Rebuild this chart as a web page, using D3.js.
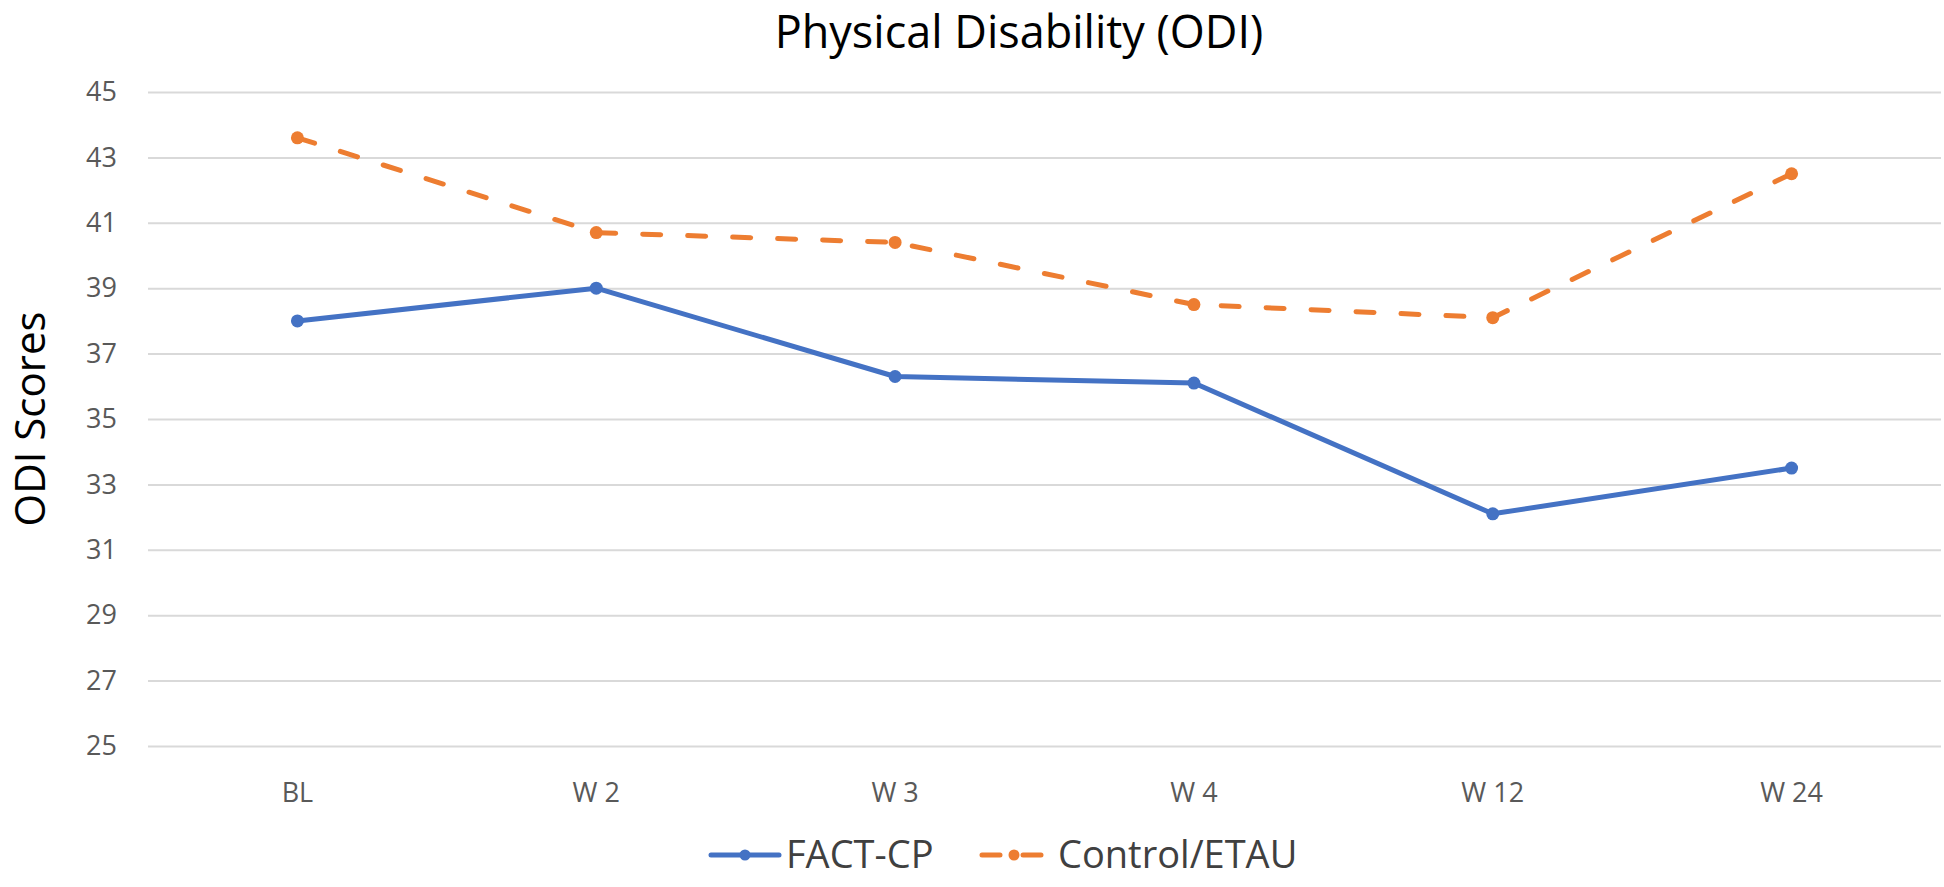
<!DOCTYPE html>
<html>
<head>
<meta charset="utf-8">
<script src="https://cdn.jsdelivr.net/npm/d3@7"></script>
<style>
  html, body { margin: 0; padding: 0; background: #fff; }
  svg { display: block; }
  text { font-family: "Open Sans", "Noto Sans", sans-serif; }
</style>
</head>
<body>
<script>
const categories = ["BL", "W 2", "W 3", "W 4", "W 12", "W 24"];
const factCP = [38.0, 39.0, 36.3, 36.1, 32.1, 33.5];
const controlETAU = [43.6, 40.7, 40.4, 38.5, 38.1, 42.5];
const yTicks = [25, 27, 29, 31, 33, 35, 37, 39, 41, 43, 45];
const seriesNames = ["FACT-CP", "Control/ETAU"];
const titleText = "Physical Disability (ODI)";
const yTitleText = "ODI Scores";

const W = 1944, H = 887;
const margin = { left: 148, right: 3, top: 92, bottom: 141 };
const blue = "#4472C4", orange = "#ED7D31";

const svg = d3.select("body").append("svg").attr("width", W).attr("height", H);

const x = d3.scaleBand().domain(categories).range([margin.left, W - margin.right]);
const y = d3.scaleLinear().domain([25, 45]).range([H - margin.bottom, margin.top]);

// gridlines + y labels
const yAxis = d3.axisLeft(y).tickValues(yTicks).tickSize(-(W - margin.right - margin.left)).tickPadding(31).tickFormat(d3.format("d"));
const gy = svg.append("g").attr("transform", `translate(${margin.left},0)`).call(yAxis);
gy.select(".domain").remove();
gy.selectAll(".tick line").attr("stroke", "#d9d9d9").attr("stroke-width", 2);
gy.selectAll(".tick text").attr("fill", "#595959").style("font-size", "27px").style("font-family", "'Open Sans', sans-serif");

// x labels
const xAxis = d3.axisBottom(x).tickSize(0).tickPadding(0);
const gx = svg.append("g").attr("transform", `translate(0,${H - margin.bottom})`).call(xAxis);
gx.select(".domain").remove();
gx.selectAll(".tick text").attr("fill", "#595959").attr("dy", null).attr("y", 56)
  .style("font-size", "27px").style("font-family", "'Open Sans', sans-serif");

const cx = c => x(c) + x.bandwidth() / 2;
const line = d3.line().x(d => cx(d.c)).y(d => y(d.v));

const series = [
  { name: seriesNames[0], values: factCP, color: blue, dash: null },
  { name: seriesNames[1], values: controlETAU, color: orange, dash: "18,27" }
];

series.forEach(s => {
  const pts = categories.map((c, i) => ({ c, v: s.values[i] }));
  svg.append("path").datum(pts)
    .attr("fill", "none").attr("stroke", s.color).attr("stroke-width", 5)
    .attr("stroke-linecap", "round").attr("stroke-linejoin", "round")
    .attr("stroke-dasharray", s.dash)
    .attr("d", line);
  svg.append("g").selectAll("circle").data(pts).join("circle")
    .attr("cx", d => cx(d.c)).attr("cy", d => y(d.v)).attr("r", 6.5)
    .attr("fill", s.color);
});

// title
svg.append("text").attr("x", 1019).attr("y", 48).attr("text-anchor", "middle")
  .attr("fill", "#000").style("font-size", "45px").text(titleText);

// y title
svg.append("text").attr("transform", `translate(45,${(y(25) + y(45)) / 2}) rotate(-90)`)
  .attr("text-anchor", "middle").attr("fill", "#000").style("font-size", "42px").text(yTitleText);

// legend
const legY = 855;
const leg = svg.append("g");
// FACT-CP
leg.append("line").attr("x1", 711).attr("x2", 779).attr("y1", legY).attr("y2", legY)
  .attr("stroke", blue).attr("stroke-width", 5).attr("stroke-linecap", "round");
leg.append("circle").attr("cx", 745).attr("cy", legY).attr("r", 5.5).attr("fill", blue);
leg.append("text").attr("x", 786).attr("y", legY + 13).attr("fill", "#404040")
  .style("font-size", "38px").text(seriesNames[0]);
// Control/ETAU
leg.append("line").attr("x1", 982).attr("x2", 1046).attr("y1", legY).attr("y2", legY)
  .attr("stroke", orange).attr("stroke-width", 5).attr("stroke-linecap", "round")
  .attr("stroke-dasharray", "18,23");
leg.append("circle").attr("cx", 1014).attr("cy", legY).attr("r", 5.5).attr("fill", orange);
leg.append("text").attr("x", 1058).attr("y", legY + 13).attr("fill", "#404040")
  .style("font-size", "38px").text(seriesNames[1]);
</script>
</body>
</html>
